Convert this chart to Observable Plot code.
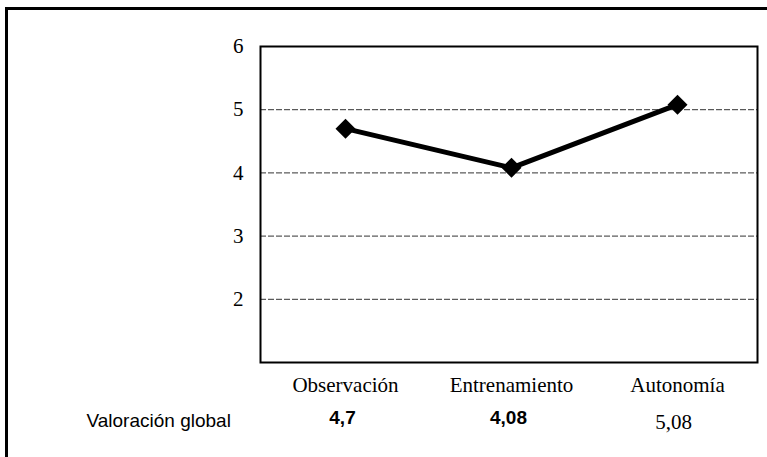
<!DOCTYPE html>
<html>
<head>
<meta charset="utf-8">
<script src="https://cdn.jsdelivr.net/npm/d3@7"></script>
<script src="https://cdn.jsdelivr.net/npm/@observablehq/plot@0.6"></script>
<style>
  html, body { margin: 0; padding: 0; background: #fff; overflow: hidden; }
  #wrap { position: relative; width: 767px; height: 457px; overflow: hidden; }
  #outer { position: absolute; left: 5px; top: 7px; width: 900px; height: 700px; border: 3px solid #000; box-sizing: border-box; pointer-events: none; }
</style>
</head>
<body>
<div id="wrap"><div id="chart"></div><div id="outer"></div></div>
<script>
const categories = ["Observación", "Entrenamiento", "Autonomía"];
const values = [4.7, 4.08, 5.08];
const yTicks = [2, 3, 4, 5, 6];
const gridValues = [2, 3, 4, 5];
const rowLabel = "Valoración global";

const data = categories.map((c, i) => ({cat: c, val: values[i], label: String(values[i]).replace(".", ",")}));
const serif = "Liberation Serif, Times New Roman, serif";
const sans = "Liberation Sans, Arial, sans-serif";

const chart = Plot.plot({
  width: 767,
  height: 457,
  marginLeft: 260,
  marginRight: 10,
  marginTop: 46,
  marginBottom: 95,
  style: {background: "transparent", color: "#000"},
  x: {type: "point", domain: categories, range: [344, 677], padding: 0, label: null},
  y: {domain: [1, 6], label: null},
  marks: [
    Plot.ruleY(gridValues, {stroke: "#333", strokeWidth: 1, strokeDasharray: "6,2"}),
    Plot.frame({stroke: "#000", strokeWidth: 2}),
    Plot.axisY({ticks: yTicks, tickFormat: d => String(d), tickSize: 0, tickPadding: 17, fontSize: 21, fontFamily: serif, label: null}),
    Plot.axisX({tickSize: 0, tickPadding: 15, fontSize: 21, fontFamily: serif, label: null}),
    Plot.line(data, {x: "cat", y: "val", stroke: "#000", strokeWidth: 5}),
    Plot.dot(data, {x: "cat", y: "val", symbol: "diamond2", r: 9, fill: "#000", stroke: "none"}),
    Plot.text([rowLabel], {text: d => d, frameAnchor: "bottom-left", textAnchor: "start", dx: -174, dy: 64, fontSize: 19, fontFamily: sans, fill: "#000"}),
    Plot.text(data.slice(0, 2), {x: "cat", text: "label", frameAnchor: "bottom", dx: -3, dy: 61, fontSize: 19, fontWeight: "bold", fontFamily: sans, fill: "#000"}),
    Plot.text(data.slice(2), {x: "cat", text: "label", frameAnchor: "bottom", dx: -4, dy: 66, fontSize: 21, fontFamily: serif, fill: "#000"})
  ]
});
document.getElementById("chart").appendChild(chart);
</script>
</body>
</html>
